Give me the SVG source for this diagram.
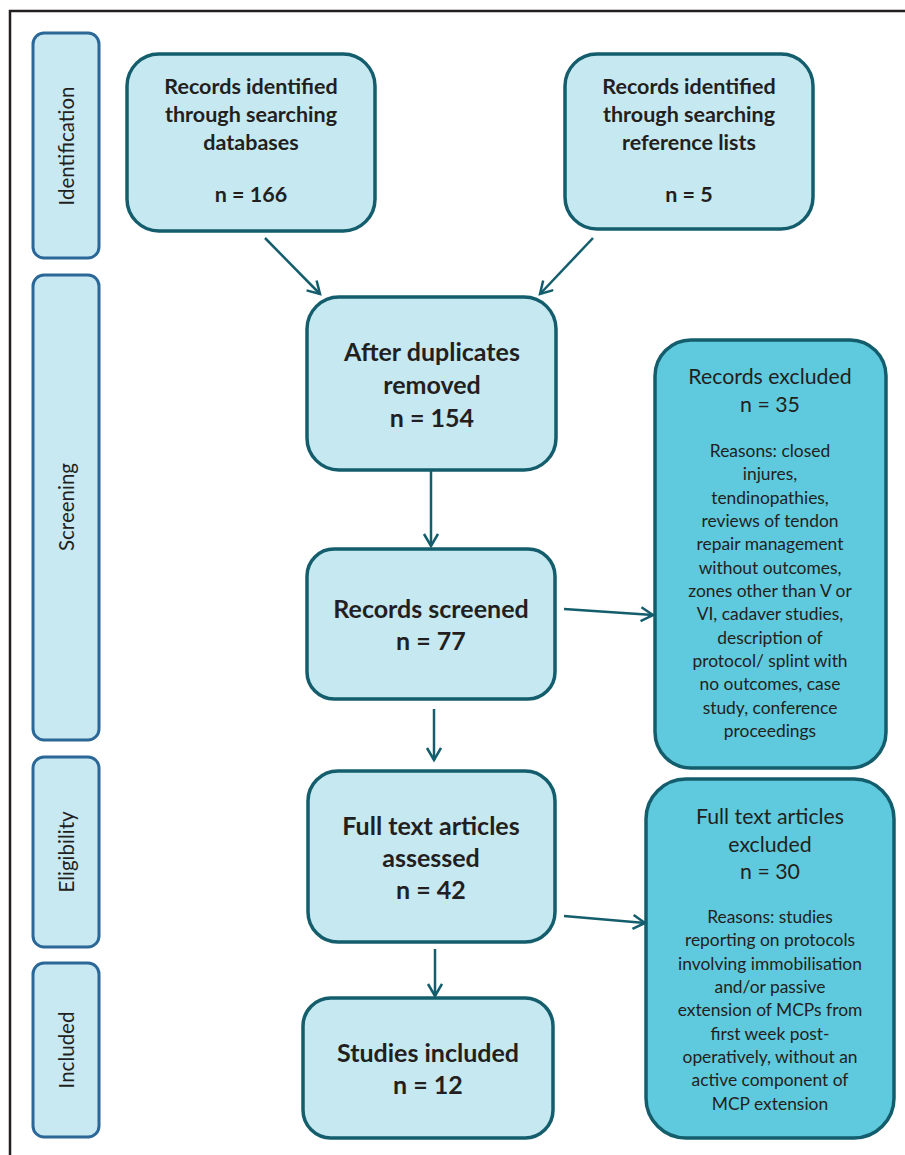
<svg xmlns="http://www.w3.org/2000/svg" width="905" height="1155" viewBox="0 0 905 1155">
<style>
.frame{stroke:#231f20;stroke-width:2.5;fill:none}
.side{fill:#c8e9f2;stroke:#2b6898;stroke-width:3}
.main{fill:#c6e8f1;stroke:#135d6c;stroke-width:3.5}
.excl{fill:#5fc9dd;stroke:#135d6c;stroke-width:3.5}
.conn{stroke:#135d6c;stroke-width:2.5;fill:none}
text{font-family:Lato,"Liberation Sans",sans-serif;fill:#231f20;text-anchor:middle}
.sl{font-size:20.5px}
.b20{font-size:21.5px;font-weight:bold}
.b24{font-size:25px;font-weight:bold}
.n20{font-size:21.3px}
.n16{font-size:17.4px}
</style>
<defs>
<marker id="ah" markerWidth="16" markerHeight="18" refX="13" refY="8" orient="auto" markerUnits="userSpaceOnUse">
<path d="M1,1 L13,8 L1,15" fill="none" stroke="#135d6c" stroke-width="2.5"/>
</marker>
</defs>
<rect width="905" height="1155" fill="#ffffff"/>
<path class="frame" d="M10,1155 V11 H905"/>

<g id="phase-identification">
<rect class="side" x="33" y="33" width="66" height="225" rx="11"/>
<text class="sl" transform="translate(66,146) rotate(-90)" dominant-baseline="central">Identification</text>
</g>
<g id="phase-screening">
<rect class="side" x="33" y="275" width="66" height="465" rx="11"/>
<text class="sl" transform="translate(66,507) rotate(-90)" dominant-baseline="central">Screening</text>
</g>
<g id="phase-eligibility">
<rect class="side" x="33" y="757" width="66" height="190" rx="11"/>
<text class="sl" transform="translate(66,852) rotate(-90)" dominant-baseline="central">Eligibility</text>
</g>
<g id="phase-included">
<rect class="side" x="33" y="963" width="66" height="174" rx="11"/>
<text class="sl" transform="translate(66,1050) rotate(-90)" dominant-baseline="central">Included</text>
</g>

<g id="records-databases">
<rect class="main" x="127" y="54" width="248" height="177" rx="32"/>
<text class="b20" x="251" y="94">Records identified</text>
<text class="b20" x="251" y="122">through searching</text>
<text class="b20" x="251" y="150">databases</text>
<text class="b20" x="251" y="202">n = 166</text>
</g>
<g id="records-reference-lists">
<rect class="main" x="565" y="54" width="248" height="175" rx="32"/>
<text class="b20" x="689" y="94">Records identified</text>
<text class="b20" x="689" y="122">through searching</text>
<text class="b20" x="689" y="150">reference lists</text>
<text class="b20" x="689" y="202">n = 5</text>
</g>
<g id="after-duplicates">
<rect class="main" x="307" y="297" width="249" height="173" rx="32"/>
<text class="b24" x="432" y="361">After duplicates</text>
<text class="b24" x="432" y="394">removed</text>
<text class="b24" x="432" y="427">n = 154</text>
</g>
<g id="records-screened">
<rect class="main" x="307" y="549" width="248" height="150" rx="27"/>
<text class="b24" x="431" y="618">Records screened</text>
<text class="b24" x="431" y="650">n = 77</text>
</g>
<g id="full-text-assessed">
<rect class="main" x="308" y="771" width="247" height="171" rx="30"/>
<text class="b24" x="431" y="835">Full text articles</text>
<text class="b24" x="431" y="867">assessed</text>
<text class="b24" x="431" y="899">n = 42</text>
</g>
<g id="studies-included">
<rect class="main" x="303" y="998" width="250" height="140" rx="28"/>
<text class="b24" x="428" y="1062">Studies included</text>
<text class="b24" x="428" y="1094">n = 12</text>
</g>
<g id="records-excluded">
<rect class="excl" x="655" y="340" width="231" height="428" rx="36"/>
<text class="n20" x="770" y="384">Records excluded</text>
<text class="n20" x="770" y="412">n = 35</text>
<text class="n16" x="770" y="457">Reasons: closed</text>
<text class="n16" x="770" y="480.3">injures,</text>
<text class="n16" x="770" y="503.7">tendinopathies,</text>
<text class="n16" x="770" y="527">reviews of tendon</text>
<text class="n16" x="770" y="550.3">repair management</text>
<text class="n16" x="770" y="573.7">without outcomes,</text>
<text class="n16" x="770" y="597">zones other than V or</text>
<text class="n16" x="770" y="620.3">VI, cadaver studies,</text>
<text class="n16" x="770" y="643.7">description of</text>
<text class="n16" x="770" y="667">protocol/ splint with</text>
<text class="n16" x="770" y="690.3">no outcomes, case</text>
<text class="n16" x="770" y="713.7">study, conference</text>
<text class="n16" x="770" y="737">proceedings</text>
</g>
<g id="full-text-excluded">
<rect class="excl" x="646" y="779" width="248" height="359" rx="40"/>
<text class="n20" x="770" y="824">Full text articles</text>
<text class="n20" x="770" y="852">excluded</text>
<text class="n20" x="770" y="879">n = 30</text>
<text class="n16" x="770" y="923">Reasons: studies</text>
<text class="n16" x="770" y="946.3">reporting on protocols</text>
<text class="n16" x="770" y="969.7">involving immobilisation</text>
<text class="n16" x="770" y="993">and/or passive</text>
<text class="n16" x="770" y="1016.3">extension of MCPs from</text>
<text class="n16" x="770" y="1039.7">first week post-</text>
<text class="n16" x="770" y="1063">operatively, without an</text>
<text class="n16" x="770" y="1086.3">active component of</text>
<text class="n16" x="770" y="1109.7">MCP extension</text>
</g>

<g id="connectors">
<line class="conn" x1="265" y1="238" x2="320" y2="294" marker-end="url(#ah)"/>
<line class="conn" x1="593" y1="238" x2="540" y2="294" marker-end="url(#ah)"/>
<line class="conn" x1="431" y1="470" x2="431" y2="546" marker-end="url(#ah)"/>
<line class="conn" x1="434" y1="709" x2="434" y2="760" marker-end="url(#ah)"/>
<line class="conn" x1="435" y1="949" x2="435" y2="996" marker-end="url(#ah)"/>
<line class="conn" x1="564" y1="609" x2="653" y2="615" marker-end="url(#ah)"/>
<line class="conn" x1="564" y1="916" x2="645" y2="923" marker-end="url(#ah)"/>
</g>
</svg>
